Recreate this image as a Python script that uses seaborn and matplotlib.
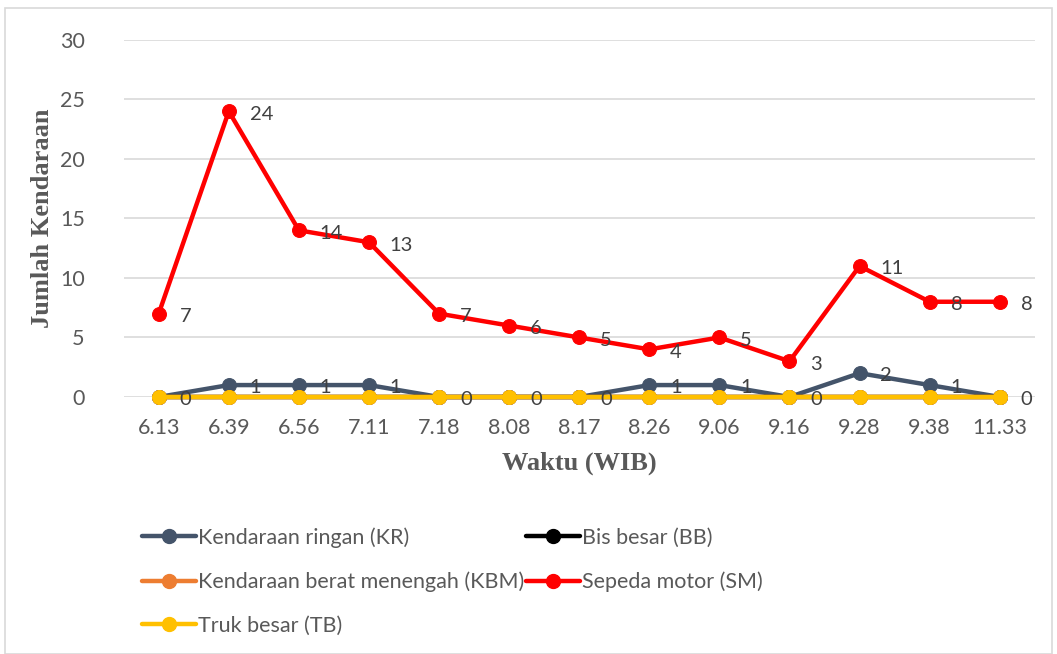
import matplotlib
matplotlib.use("Agg")
import matplotlib.pyplot as plt
import seaborn as sns
import pandas as pd
import numpy as np
from matplotlib.lines import Line2D
from matplotlib.patches import Rectangle

times = ["6.13", "6.39", "6.56", "7.11", "7.18", "8.08", "8.17", "8.26", "9.06", "9.16", "9.28", "9.38", "11.33"]
kr = [0, 1, 1, 1, 0, 0, 0, 1, 1, 0, 2, 1, 0]
bb = [0, 0, 0, 0, 0, 0, 0, 0, 0, 0, 0, 0, 0]
kbm = [0, 0, 0, 0, 0, 0, 0, 0, 0, 0, 0, 0, 0]
sm = [7, 24, 14, 13, 7, 6, 5, 4, 5, 3, 11, 8, 8]
tb = [0, 0, 0, 0, 0, 0, 0, 0, 0, 0, 0, 0, 0]

names = ["Kendaraan ringan (KR)", "Bis besar (BB)", "Kendaraan berat menengah (KBM)",
         "Sepeda motor (SM)", "Truk besar (TB)"]
series = [kr, bb, kbm, sm, tb]
colors = ["#44546A", "#000000", "#ED7D31", "#FF0000", "#FFC000"]
labelled = [True, False, False, True, False]

sns.set_theme(style="white")
plt.rcParams["font.family"] = ["Lato", "DejaVu Sans"]

fig = plt.figure(figsize=(10.57, 6.54), dpi=100)
ax = fig.add_axes([0.117, 0.393, 0.862, 0.546])

xs = np.arange(len(times))
for name, vals, col, lab in zip(names, series, colors, labelled):
    df = pd.DataFrame({"x": xs, "y": vals})
    sns.lineplot(data=df, x="x", y="y", ax=ax, color=col, linewidth=3.2,
                 marker="o", markersize=10, markeredgecolor=col, clip_on=False,
                 label=name, legend=False)
    if lab:
        for xi, v in zip(xs, vals):
            ax.annotate(str(v), (xi, v), xytext=(15, -2), textcoords="offset points",
                        ha="left", va="center", fontsize=14.5, color="#404040")

ax.set_xlim(-0.5, len(times) - 0.5)
ax.set_ylim(0, 30)
ax.set_yticks(range(0, 31, 5))
ax.set_xticks(xs)
ax.set_xticklabels(times)
ax.tick_params(axis="both", labelsize=15.5, colors="#595959", length=0)
ax.tick_params(axis="x", pad=15)
ax.tick_params(axis="y", pad=28)
ax.grid(axis="y", color="#D9D9D9", linewidth=1.2)
ax.set_axisbelow(True)
for s in ax.spines.values():
    s.set_visible(False)

ax.set_xlabel("Waktu (WIB)", fontsize=19, fontweight="bold", family="Liberation Serif",
              color="#595959", labelpad=10)
ax.set_ylabel("Jumlah Kendaraan", fontsize=19, fontweight="bold", family="Liberation Serif",
              color="#595959", labelpad=4)

handles = [Line2D([0], [0], color=c, linewidth=3.2, marker="o", markersize=10) for c in colors]
order = [0, 2, 4, 1, 3]
fig.legend([handles[i] for i in order], [names[i] for i in order], ncol=2,
           loc="upper left", bbox_to_anchor=(0.124, 0.21), frameon=False,
           fontsize=15.5, labelcolor="#595959", handlelength=2.5, handletextpad=0.1,
           columnspacing=0.1, labelspacing=1.1, borderpad=0)

fig.patches.append(Rectangle((0.005, 0.0), 0.99, 0.988, transform=fig.transFigure,
                             fill=False, edgecolor="#D9D9D9", linewidth=1.2))

fig.savefig("out.png", dpi=100)
